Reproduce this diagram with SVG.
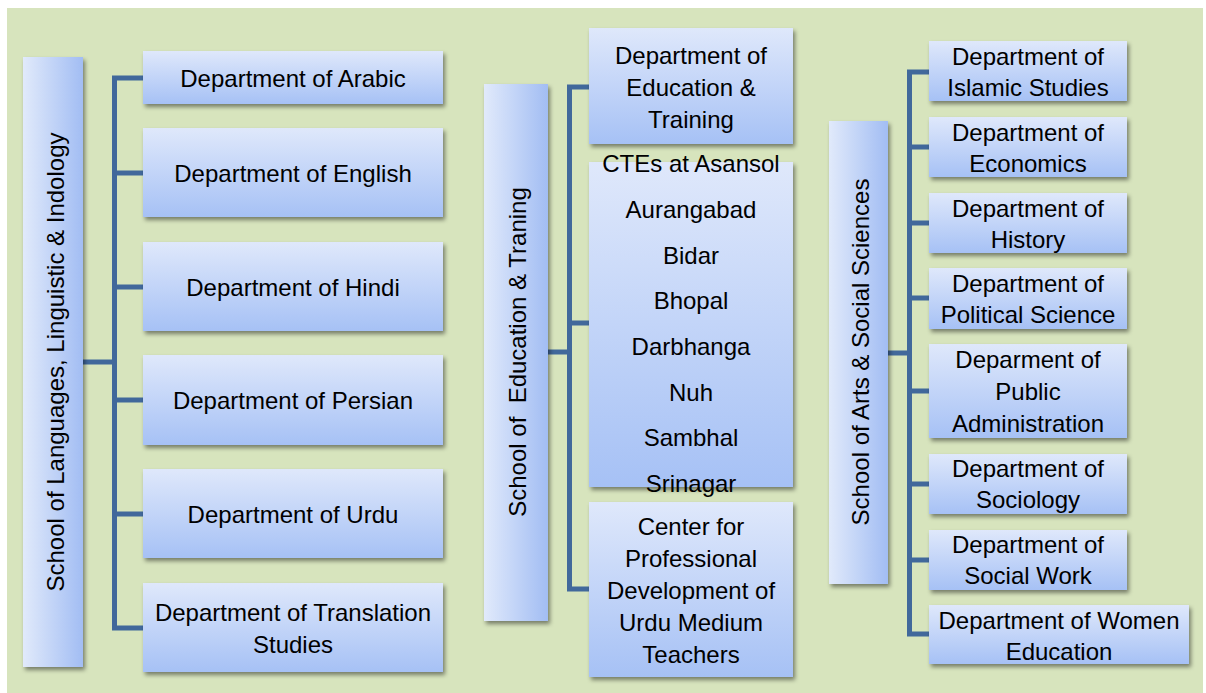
<svg xmlns="http://www.w3.org/2000/svg" width="1206" height="693" viewBox="0 0 1206 693">
<defs>
<linearGradient id="gv" x1="0" y1="0" x2="0" y2="1">
<stop offset="0" stop-color="#dfe8fb"/>
<stop offset="1" stop-color="#a6c1f5"/>
</linearGradient>
<linearGradient id="gh" x1="0" y1="0" x2="1" y2="0">
<stop offset="0" stop-color="#e1eafb"/>
<stop offset="1" stop-color="#a2bdf3"/>
</linearGradient>
<filter id="sh" x="-10%" y="-10%" width="125%" height="130%">
<feDropShadow dx="2" dy="3" stdDeviation="2" flood-color="#000" flood-opacity="0.45"/>
</filter>
</defs>
<style>
.box{fill:url(#gv);filter:url(#sh)}
.school{fill:url(#gh);filter:url(#sh)}
.t{font-family:"Liberation Sans",Arial,sans-serif;font-size:24px;fill:#000;text-anchor:middle;dominant-baseline:central}
.conn{fill:none;stroke:#41689b;stroke-width:5;stroke-linejoin:miter}
</style>
<rect x="7" y="8" width="1196" height="685" fill="#d7e4bd"/>

<g id="connectors">
<path class="conn" d="M82 362H114.5M143 78H114.5V628H143M114.5 173H143M114.5 287H143M114.5 400H143M114.5 514H143"/>
<path class="conn" d="M548 352H569.5M589 87H569.5V589H589M569.5 323H589"/>
<path class="conn" d="M888 353H909.5M929 72H909.5V634H929M909.5 147H929M909.5 223H929M909.5 298H929M909.5 391H929M909.5 484H929M909.5 560H929"/>
</g>

<g id="school-languages">
<rect class="school" x="23" y="57" width="60" height="610"/>
<text class="t" transform="translate(55,362) rotate(-90)">School of Languages, Linguistic &amp; Indology</text>
</g>
<g id="dept-arabic"><rect class="box" x="143" y="51" width="300" height="53"/><text class="t" x="293" y="78">Department of Arabic</text></g>
<g id="dept-english"><rect class="box" x="143" y="128" width="300" height="89"/><text class="t" x="293" y="173">Department of English</text></g>
<g id="dept-hindi"><rect class="box" x="143" y="242" width="300" height="89"/><text class="t" x="293" y="287">Department of Hindi</text></g>
<g id="dept-persian"><rect class="box" x="143" y="355" width="300" height="90"/><text class="t" x="293" y="400">Department of Persian</text></g>
<g id="dept-urdu"><rect class="box" x="143" y="469" width="300" height="89"/><text class="t" x="293" y="514">Department of Urdu</text></g>
<g id="dept-translation"><rect class="box" x="143" y="583" width="300" height="89"/><text class="t" x="293" y="612">Department of Translation</text><text class="t" x="293" y="644">Studies</text></g>

<g id="school-education">
<rect class="school" x="484" y="84" width="64" height="537"/>
<text class="t" transform="translate(517,352) rotate(-90)" xml:space="preserve">School of  Education &amp; Traning</text>
</g>
<g id="dept-education"><rect class="box" x="589" y="28" width="204" height="116"/><text class="t" x="691" y="55">Department of</text><text class="t" x="691" y="87">Education &amp;</text><text class="t" x="691" y="119">Training</text></g>
<g id="ctes"><rect class="box" x="589" y="162" width="204" height="325"/>
<text class="t" x="691" y="163">CTEs at Asansol</text>
<text class="t" x="691" y="209">Aurangabad</text>
<text class="t" x="691" y="255">Bidar</text>
<text class="t" x="691" y="300">Bhopal</text>
<text class="t" x="691" y="346">Darbhanga</text>
<text class="t" x="691" y="392">Nuh</text>
<text class="t" x="691" y="437">Sambhal</text>
<text class="t" x="691" y="483">Srinagar</text>
</g>
<g id="center-professional"><rect class="box" x="589" y="502" width="204" height="175"/>
<text class="t" x="691" y="526">Center for</text>
<text class="t" x="691" y="558">Professional</text>
<text class="t" x="691" y="590">Development of</text>
<text class="t" x="691" y="622">Urdu Medium</text>
<text class="t" x="691" y="654">Teachers</text>
</g>

<g id="school-arts">
<rect class="school" x="829" y="121" width="59" height="463"/>
<text class="t" transform="translate(860,352) rotate(-90)">School of Arts &amp; Social Sciences</text>
</g>
<g id="dept-islamic"><rect class="box" x="929" y="41" width="198" height="60"/><text class="t" x="1028" y="56">Department of</text><text class="t" x="1028" y="87">Islamic Studies</text></g>
<g id="dept-economics"><rect class="box" x="929" y="117" width="198" height="60"/><text class="t" x="1028" y="132">Department of</text><text class="t" x="1028" y="163">Economics</text></g>
<g id="dept-history"><rect class="box" x="929" y="193" width="198" height="60"/><text class="t" x="1028" y="208">Department of</text><text class="t" x="1028" y="239">History</text></g>
<g id="dept-political"><rect class="box" x="929" y="268" width="198" height="61"/><text class="t" x="1028" y="283">Department of</text><text class="t" x="1028" y="314">Political Science</text></g>
<g id="dept-public-admin"><rect class="box" x="929" y="344" width="198" height="94"/><text class="t" x="1028" y="359">Deparment of</text><text class="t" x="1028" y="391">Public</text><text class="t" x="1028" y="423">Administration</text></g>
<g id="dept-sociology"><rect class="box" x="929" y="454" width="198" height="60"/><text class="t" x="1028" y="468">Department of</text><text class="t" x="1028" y="499">Sociology</text></g>
<g id="dept-social-work"><rect class="box" x="929" y="530" width="198" height="60"/><text class="t" x="1028" y="544">Department of</text><text class="t" x="1028" y="575">Social Work</text></g>
<g id="dept-women"><rect class="box" x="929" y="605" width="260" height="59"/><text class="t" x="1059" y="620">Department of Women</text><text class="t" x="1059" y="651">Education</text></g>
</svg>
